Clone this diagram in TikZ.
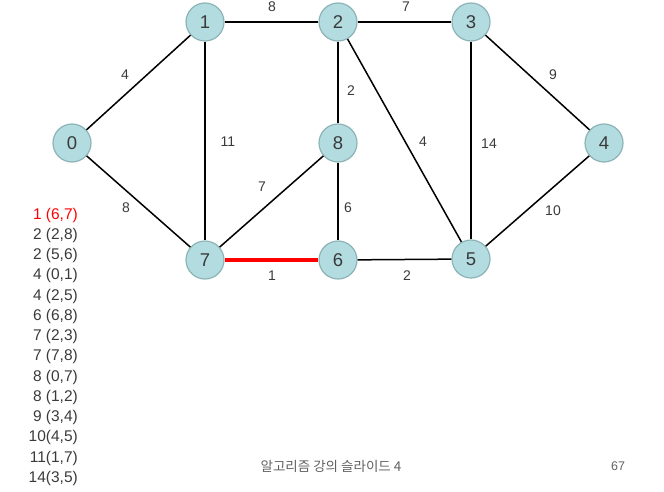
\documentclass[tikz,border=0pt]{standalone}
\usepackage{fontspec}
\setmainfont{Liberation Sans}
\newfontfamily\krfont{Noto Sans CJK KR}
\usetikzlibrary{positioning}
\definecolor{vfill}{HTML}{B3DCE0}
\definecolor{vdraw}{HTML}{8DB3B7}
\definecolor{txt}{HTML}{3A3A3A}
\tikzstyle{vertex} = [circle, minimum size=38pt, inner sep=0pt, fill=vfill, draw=vdraw, line width=1.2pt, text=txt, font=\fontsize{18.5}{18.5}\selectfont]
\tikzstyle{edge} = [line width=1.5pt, black]
\tikzstyle{chosen} = [line width=3.2pt, red]
\tikzstyle{elabel} = [text=txt, inner sep=0pt, font=\fontsize{14}{14}\selectfont]
\tikzstyle{listitem} = [anchor=east, text=txt, inner sep=0pt, font=\fontsize{15.5}{15.5}\selectfont]

\begin{document}
\begin{tikzpicture}[x=1pt, y=-1pt]
\useasboundingbox (0,0) rectangle (664,492);

% Vertici
\node (v0) [vertex] at (72,143) {0};
\node (v1) [vertex] at (205,22) {1};
\node (v2) [vertex] at (338,22) {2};
\node (v3) [vertex] at (471,22) {3};
\node (v4) [vertex] at (604,143) {4};
\node (v5) [vertex] at (471,259) {5};
\node (v6) [vertex] at (338,260) {6};
\node (v7) [vertex] at (205,260) {7};
\node (v8) [vertex] at (338,143) {8};

% Archi
\draw [edge] (v0) -- (v1);
\draw [edge] (v1) -- (v2);
\draw [edge] (v2) -- (v3);
\draw [edge] (v3) -- (v4);
\draw [edge] (v1) -- (v7);
\draw [edge] (v2) -- (v8);
\draw [edge] (v2) -- (v5);
\draw [edge] (v3) -- (v5);
\draw [edge] (v8) -- (v7);
\draw [edge] (v8) -- (v6);
\draw [edge] (v0) -- (v7);
\draw [edge] (v4) -- (v5);
\draw [edge] (v6) -- (v5);
\draw [chosen] (v7) -- (v6);

% Pesi
\node (w01) [elabel] at (125,75) {4};
\node (w12) [elabel] at (272,7) {8};
\node (w23) [elabel] at (406,7) {7};
\node (w34) [elabel] at (553,75) {9};
\node (w17) [elabel] at (228,142) {11};
\node (w28) [elabel] at (351,91) {2};
\node (w25) [elabel] at (423,142) {4};
\node (w35) [elabel] at (489,144) {14};
\node (w87) [elabel] at (262,187) {7};
\node (w86) [elabel] at (348,208) {6};
\node (w07) [elabel] at (126,208) {8};
\node (w45) [elabel] at (553,211) {10};
\node (w76) [elabel] at (272,276) {1};
\node (w65) [elabel] at (407,276) {2};

% Lista ordinata
\node (l0) [listitem, text=red] at (78,215) {1 (6,7)};
\foreach \t [count=\i] in {{2 (2,8)}, {2 (5,6)}, {4 (0,1)}, {4 (2,5)}, {6 (6,8)}, {7 (2,3)}, {7 (7,8)}, {8 (0,7)}, {8 (1,2)}, {9 (3,4)}, {10(4,5)}, {11(1,7)}, {14(3,5)}}
  \node (l\i) [listitem] at (78,215+20.25*\i) {\t};

% Piede
\node (foot) [text=txt!80, font=\krfont\fontsize{13.5}{14}\selectfont] at (331,466) {알고리즘 강의 슬라이드 4};
\node (page) [text=txt!80, font=\fontsize{12.5}{13}\selectfont] at (618,466) {67};

\end{tikzpicture}
\end{document}
